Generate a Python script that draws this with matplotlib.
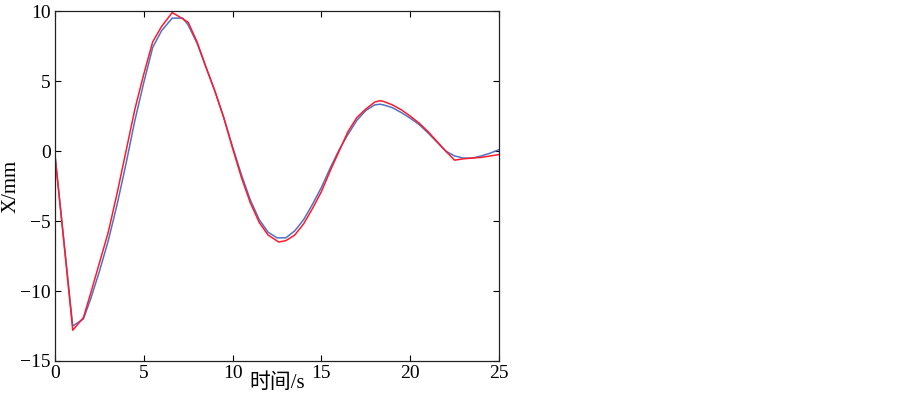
import numpy as np
import matplotlib.pyplot as plt

# time axis (s) and the two displacement curves (mm)
t_red = [0, 0.5, 1.0, 1.6, 2.0, 2.5, 3.0, 3.5, 4.0, 4.5, 5.0, 5.5, 6.0, 6.6, 7.0,
         7.5, 8.0, 8.5, 9.0, 9.5, 10.0, 10.5, 11.0, 11.5, 12.0, 12.6, 13.0, 13.5,
         14.0, 14.5, 15.0, 15.5, 16.0, 16.5, 17.0, 17.5, 18.0, 18.3, 18.5, 19.0,
         19.5, 20.0, 20.5, 21.0, 21.5, 22.0, 22.5, 23.0, 23.5, 24.0, 24.5, 25.0]
x_red = [-0.3, -6.5, -12.8, -11.9, -10.2, -8.0, -5.8, -3.0, 0.0, 3.0, 5.5, 7.8,
         8.9, 9.9, 9.6, 9.2, 7.8, 6.0, 4.3, 2.4, 0.2, -1.9, -3.7, -5.1, -6.0,
         -6.5, -6.4, -6.0, -5.2, -4.1, -2.9, -1.4, 0.0, 1.4, 2.4, 3.0, 3.5, 3.6,
         3.55, 3.3, 2.95, 2.5, 2.0, 1.4, 0.7, 0.0, -0.65, -0.55, -0.5, -0.45,
         -0.35, -0.25]

t_blue = [0, 0.5, 1.0, 1.6, 2.0, 2.5, 3.0, 3.5, 4.0, 4.5, 5.0, 5.5, 6.0, 6.6, 7.2,
          7.5, 8.0, 8.5, 9.0, 9.5, 10.0, 10.5, 11.0, 11.5, 12.0, 12.5, 13.0, 13.5,
          14.0, 14.5, 15.0, 15.5, 16.0, 16.5, 17.0, 17.5, 18.0, 18.3, 18.5, 19.0,
          19.5, 20.0, 20.5, 21.0, 21.5, 22.0, 22.5, 23.0, 23.5, 24.0, 24.5, 25.0]
x_blue = [-0.3, -6.4, -12.5, -12.0, -10.6, -8.6, -6.4, -3.8, -0.9, 2.2, 4.9, 7.4,
          8.6, 9.5, 9.5, 9.0, 7.7, 6.0, 4.3, 2.4, 0.3, -1.7, -3.5, -4.9, -5.8,
          -6.2, -6.2, -5.7, -4.9, -3.8, -2.6, -1.2, 0.1, 1.2, 2.2, 2.9, 3.3,
          3.35, 3.3, 3.1, 2.75, 2.35, 1.9, 1.3, 0.65, 0.0, -0.35, -0.5, -0.5,
          -0.35, -0.15, 0.1]

plt.rcParams['font.family'] = ['Liberation Serif', 'Noto Sans CJK SC']

fig = plt.figure(figsize=(9.03, 3.98), dpi=100)
ax = fig.add_axes([0.0609, 0.093, 0.4917, 0.879])

ax.plot(t_blue, x_blue, color='#4f72c8', lw=1.1)
ax.plot(t_red, x_red, color='#ff1a2a', lw=1.1)

ax.set_xlim(0, 25)
ax.set_ylim(-15, 10)
ax.set_xticks([0, 5, 10, 15, 20, 25])
ax.set_yticks([-15, -10, -5, 0, 5, 10])
ax.tick_params(direction='in', top=True, right=True, length=4, width=0.8,
               labelsize=14, pad=3)
for s in ax.spines.values():
    s.set_linewidth(0.9)
    s.set_color('#222222')

ax.set_xlabel('时间/s', fontsize=15, labelpad=-6)
ax.set_ylabel('X/mm', fontsize=15, labelpad=0)

fig.savefig('out.png', dpi=100)
